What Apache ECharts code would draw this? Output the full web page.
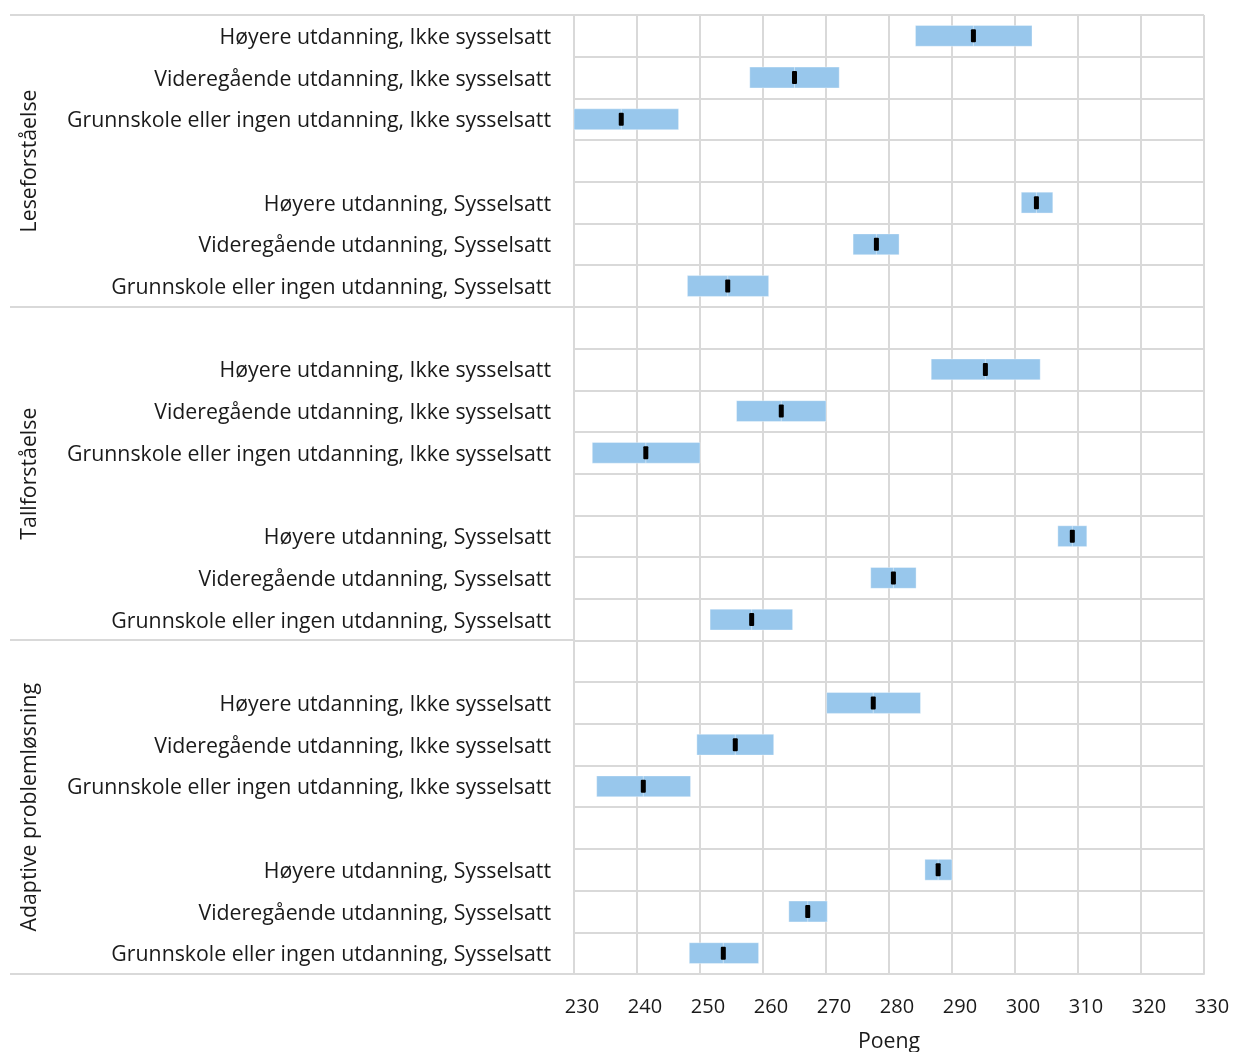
<!DOCTYPE html>
<html>
<head>
<meta charset="utf-8">
<script src="https://cdn.jsdelivr.net/npm/echarts@6/dist/echarts.min.js"></script>
<style>
html,body{margin:0;padding:0;background:#fff;}
#chart{width:1234px;height:1052px;}
</style>
</head>
<body>
<div id="chart"></div>
<script>
// ---- data ----
const groups = ['Leseforståelse', 'Tallforståelse', 'Adaptive problemløsning'];
const groupStart = [0, 7, 15];   // first row index of each group
const groupEnd = [7, 15, 23];    // row index after the last row of each group
const rowLabels = [
  'Høyere utdanning, Ikke sysselsatt',
  'Videregående utdanning, Ikke sysselsatt',
  'Grunnskole eller ingen utdanning, Ikke sysselsatt',
  '',
  'Høyere utdanning, Sysselsatt',
  'Videregående utdanning, Sysselsatt',
  'Grunnskole eller ingen utdanning, Sysselsatt',
  '',
  'Høyere utdanning, Ikke sysselsatt',
  'Videregående utdanning, Ikke sysselsatt',
  'Grunnskole eller ingen utdanning, Ikke sysselsatt',
  '',
  'Høyere utdanning, Sysselsatt',
  'Videregående utdanning, Sysselsatt',
  'Grunnskole eller ingen utdanning, Sysselsatt',
  '',
  'Høyere utdanning, Ikke sysselsatt',
  'Videregående utdanning, Ikke sysselsatt',
  'Grunnskole eller ingen utdanning, Ikke sysselsatt',
  '',
  'Høyere utdanning, Sysselsatt',
  'Videregående utdanning, Sysselsatt',
  'Grunnskole eller ingen utdanning, Sysselsatt'
];
const lower = [284.2, 257.9, 228.4, null, 301.0, 274.3, 248.0,
               null, 286.7, 255.8, 232.9, null, 306.8, 277.1, 251.6,
               null, 270.1, 249.5, 233.6, null, 285.7, 264.1, 248.3];
const mean  = [293.4, 265.0, 237.5, null, 303.4, 278.0, 254.4,
               null, 295.3, 262.9, 241.4, null, 309.1, 280.7, 258.2,
               null, 277.5, 255.6, 241.0, null, 287.8, 267.1, 253.7];
const upper = [302.7, 272.1, 246.6, null, 306.0, 281.6, 260.9,
               null, 304.0, 270.0, 250.0, null, 311.4, 284.3, 264.7,
               null, 285.0, 261.7, 248.5, null, 290.0, 270.2, 259.3];
const xTicks = {min: 230, max: 330, interval: 10};
const xName = 'Poeng';

// ---- chart ----
const FONT = 'Open Sans';
const TEXT = '#1a1a1a';
const GRID = '#d9d9d9';
const BAR = '#98c7ec';

const rows = rowLabels.map((_, i) => String(i));
const seriesData = [];
rowLabels.forEach((_, i) => {
  if (mean[i] != null) seriesData.push([i, lower[i], mean[i], upper[i]]);
});

const chart = echarts.init(document.getElementById('chart'), null, {renderer: 'canvas'});

function renderItem(params, api) {
  const row = api.value(0);
  const pLo = api.coord([api.value(1), row]);
  const pMe = api.coord([api.value(2), row]);
  const pHi = api.coord([api.value(3), row]);
  const band = api.size([0, 1])[1];
  const h = band * 0.5;
  const cs = params.coordSys;
  const rect = echarts.graphic.clipRectByRect(
    {x: pLo[0], y: pLo[1] - h / 2, width: pHi[0] - pLo[0], height: h},
    {x: cs.x, y: cs.y, width: cs.width, height: cs.height}
  );
  const mw = 5, mh = 13;
  return {
    type: 'group',
    children: [
      {type: 'rect', shape: rect, style: {fill: BAR, stroke: 'rgba(255,255,255,0.35)', lineWidth: 1}},
      {type: 'line', shape: {x1: pMe[0], y1: pLo[1] - h / 2, x2: pMe[0], y2: pLo[1] + h / 2},
       style: {stroke: 'rgba(255,255,255,0.45)', lineWidth: 1}},
      {type: 'rect', shape: {x: pMe[0] - mw / 2, y: pMe[1] - mh / 2, width: mw, height: mh, r: 1},
       style: {fill: '#000'}}
    ]
  };
}

const option = {
  animation: false,
  backgroundColor: '#fff',
  textStyle: {fontFamily: FONT},
  grid: {left: 574, right: 30, top: 15, bottom: 78, containLabel: false, outerBoundsMode: 'none'},
  xAxis: {
    type: 'value',
    min: xTicks.min, max: xTicks.max, interval: xTicks.interval,
    name: xName, nameLocation: 'middle', nameGap: 57,
    nameTextStyle: {fontFamily: FONT, fontSize: 21.3, color: TEXT},
    axisLine: {show: true, lineStyle: {color: GRID, width: 2}},
    axisTick: {show: false},
    axisLabel: {fontFamily: FONT, fontSize: 20, color: TEXT, margin: 23, padding: [0, 0, 0, 16]},
    splitLine: {show: true, lineStyle: {color: GRID, width: 2}}
  },
  yAxis: {
    type: 'category',
    inverse: true,
    data: rows,
    axisLine: {show: false},
    axisTick: {show: false},
    axisLabel: {
      fontFamily: FONT, fontSize: 21.3, color: TEXT, margin: 23,
      formatter: (v, i) => rowLabels[Number(v)] ? '{a|' + rowLabels[Number(v)] + '}' : '',
      rich: {a: {fontFamily: FONT, fontSize: 21.3, color: TEXT, padding: [4, 0, 0, 0]}}
    },
    splitLine: {show: true, interval: 0, lineStyle: {color: GRID, width: 2}}
  },
  series: [{
    type: 'custom',
    renderItem: renderItem,
    encode: {x: [1, 2, 3], y: 0},
    data: seriesData
  }]
};
chart.setOption(option);

// group separators and group titles, placed through the y axis scale
const c0 = chart.convertToPixel({yAxisIndex: 0}, '0');
const c1 = chart.convertToPixel({yAxisIndex: 0}, '1');
const band = c1 - c0;
const boundary = (idx) => c0 + band * (idx - 0.5);
const gridLeft = chart.convertToPixel({xAxisIndex: 0}, xTicks.min);
const gridRight = chart.convertToPixel({xAxisIndex: 0}, xTicks.max);
const graphics = [];
const bounds = [0, 7, 15, 23];
bounds.forEach(b => {
  const y = Math.round(boundary(b));
  graphics.push({
    type: 'line', silent: true, z: 0,
    shape: {x1: 10, y1: y, x2: b === 0 || b === 23 ? gridRight : gridLeft, y2: y},
    style: {stroke: GRID, lineWidth: 2}
  });
});
groups.forEach((g, k) => {
  const yc = (boundary(groupStart[k]) + boundary(groupEnd[k])) / 2;
  graphics.push({
    type: 'text', silent: true,
    x: 30, y: yc, rotation: Math.PI / 2,
    style: {text: g, fontFamily: FONT, fontSize: 21.3, fill: TEXT, align: 'center', verticalAlign: 'middle'}
  });
});
chart.setOption({graphic: graphics});
</script>
</body>
</html>
